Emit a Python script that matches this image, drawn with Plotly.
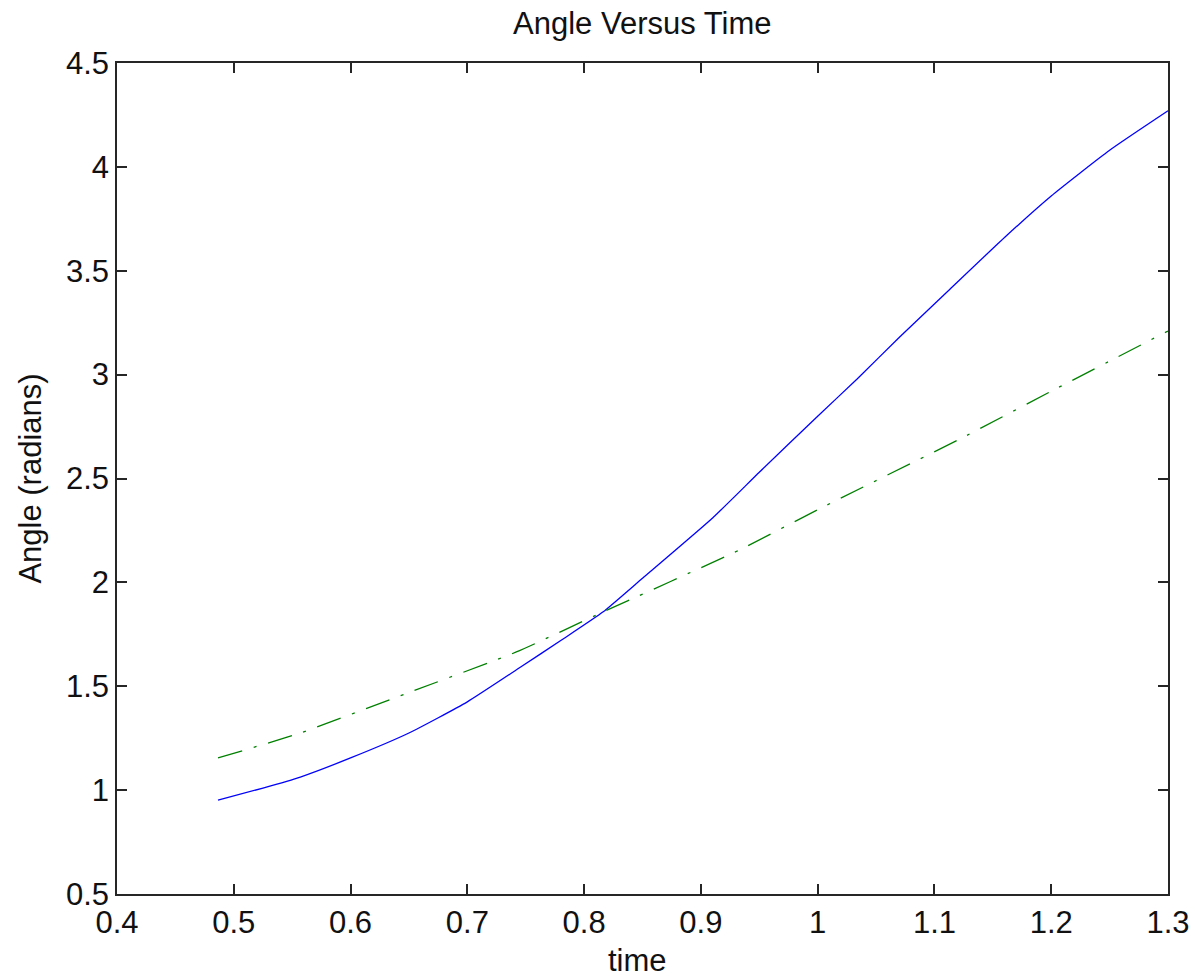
import plotly.graph_objects as go

# Measured series (time, angle in radians)
t_blue = [0.4865, 0.525, 0.557, 0.6, 0.65, 0.7, 0.745, 0.78, 0.816, 0.85, 0.91,
          0.95, 1.0, 1.034, 1.07, 1.113, 1.16, 1.2, 1.25, 1.3]
angle_blue = [0.952, 1.01, 1.063, 1.155, 1.275, 1.425, 1.59, 1.72, 1.857, 2.02, 2.31,
              2.53, 2.80, 2.98, 3.18, 3.41, 3.66, 3.86, 4.08, 4.27]

t_green = [0.4865, 0.557, 0.65, 0.742, 0.816, 0.933, 1.0, 1.12, 1.2, 1.3]
angle_green = [1.155, 1.275, 1.47, 1.665, 1.857, 2.156, 2.35, 2.685, 2.92, 3.21]

x_ticks = [0.4, 0.5, 0.6, 0.7, 0.8, 0.9, 1.0, 1.1, 1.2, 1.3]
x_tick_labels = ["0.4", "0.5", "0.6", "0.7", "0.8", "0.9", "1", "1.1", "1.2", "1.3"]
y_ticks = [0.5, 1.0, 1.5, 2.0, 2.5, 3.0, 3.5, 4.0, 4.5]
y_tick_labels = ["0.5", "1", "1.5", "2", "2.5", "3", "3.5", "4", "4.5"]

FONT = "Liberation Sans, Arial, sans-serif"
FS = 31

fig = go.Figure()
fig.add_trace(go.Scatter(x=t_blue, y=angle_blue, mode="lines",
                         line=dict(color="#0000ff", width=1.3, shape="spline", smoothing=0.5),
                         showlegend=False))
fig.add_trace(go.Scatter(x=t_green, y=angle_green, mode="lines",
                         line=dict(color="#008000", width=1.3, dash="25px,12px,3px,12px",
                                   shape="spline", smoothing=0.5),
                         showlegend=False))

axis_common = dict(showline=True, linecolor="#262626", linewidth=1.5, mirror="ticks",
                   ticks="inside", ticklen=10, tickwidth=1.5, tickcolor="#262626",
                   showgrid=False, zeroline=False, automargin=False,
                   ticklabeloverflow="allow",
                   tickfont=dict(family=FONT, size=FS, color="#111"))

# plot area: x 117..1168, y 63..894 of a 1195x979 page (body margin removed below)
fig.update_layout(
    width=1195, height=979,
    margin=dict(l=117, r=27, t=63, b=85),
    paper_bgcolor="white", plot_bgcolor="white",
    title=dict(text="Angle Versus Time", x=0.5375, xanchor="center", y=0.987, yanchor="top",
               font=dict(family=FONT, size=FS, color="#111")),
    xaxis=dict(range=[0.4, 1.3], tickvals=x_ticks, ticktext=x_tick_labels, **axis_common),
    yaxis=dict(range=[0.5, 4.5], tickvals=y_ticks, ticktext=y_tick_labels,
               title=dict(text="Angle (radians)", font=dict(family=FONT, size=FS, color="#111"), standoff=15),
               **axis_common),
    annotations=[dict(text="time", xref="paper", yref="paper", x=0.495, y=-85 / 831,
                      xanchor="center", yanchor="bottom", showarrow=False, borderpad=0,
                      font=dict(family=FONT, size=FS, color="#111"))],
)

fig.write_html("out.html", config={"displayModeBar": False},
               post_script="document.body.style.margin='0';")
